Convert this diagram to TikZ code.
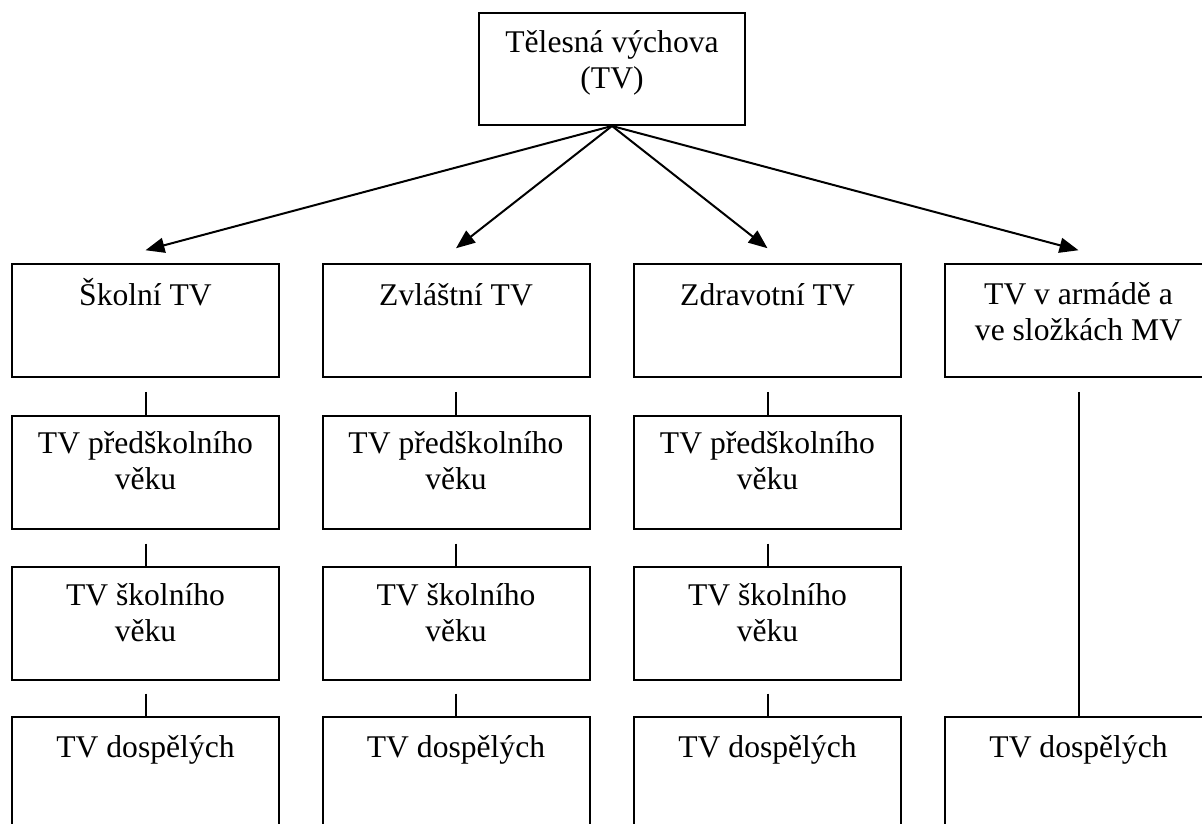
\documentclass[tikz,border=0pt]{standalone}
\usepackage{fontspec}
\setmainfont{Liberation Serif}
\usetikzlibrary{arrows.meta}
\begin{document}
\begin{tikzpicture}[x=0.5pt,y=-0.5pt,
  box/.style={draw, line width=1pt, minimum width=133.5pt, minimum height=56.25pt, inner sep=0pt},
  lbl/.style={anchor=base, align=center, inner sep=0pt, font=\fontsize{15.8pt}{18pt}\selectfont},
  arr/.style={line width=1pt, -{Triangle[length=9.5pt,width=7.5pt]}},
  con/.style={line width=1pt}]
\useasboundingbox (0,0) rectangle (1202,823);
\clip (0,0) rectangle (1202,823);
% top
\node[box, minimum width=133pt, minimum height=56pt] (top) at (612,69) {};
\path (top.north) ++(0,77) node[lbl] (ttop) {Tělesná výchova\\(TV)};
% row 1
\node[box] (b11) at (145.5,320.5) {};
\node[box] (b12) at (456,320.5) {};
\node[box] (b13) at (767.5,320.5) {};
\node[box] (b14) at (1078.5,320.5) {};
\path (b11.north) ++(0,42) node[lbl] (t11) {Školní TV};
\path (b12.north) ++(0,42) node[lbl] (t12) {Zvláštní TV};
\path (b13.north) ++(0,42) node[lbl] (t13) {Zdravotní TV};
\path (b14.north) ++(0,77) node[lbl] (t14) {TV v armádě a\\ve složkách MV};
% row 2
\node[box] (b21) at (145.5,472.25) {};
\node[box] (b22) at (456,472.25) {};
\node[box] (b23) at (767.5,472.25) {};
\path (b21.north) ++(0,74.5) node[lbl] (t21) {TV předškolního\\věku};
\path (b22.north) ++(0,74.5) node[lbl] (t22) {TV předškolního\\věku};
\path (b23.north) ++(0,74.5) node[lbl] (t23) {TV předškolního\\věku};
% row 3
\node[box] (b31) at (145.5,623.25) {};
\node[box] (b32) at (456,623.25) {};
\node[box] (b33) at (767.5,623.25) {};
\path (b31.north) ++(0,75) node[lbl] (t31) {TV školního\\věku};
\path (b32.north) ++(0,75) node[lbl] (t32) {TV školního\\věku};
\path (b33.north) ++(0,75) node[lbl] (t33) {TV školního\\věku};
% row 4
\node[box] (b41) at (145.5,773.5) {};
\node[box] (b42) at (456,773.5) {};
\node[box] (b43) at (767.5,773.5) {};
\node[box] (b44) at (1078.5,773.5) {};
\path (b41.north) ++(0,41) node[lbl] (t41) {TV dospělých};
\path (b42.north) ++(0,41) node[lbl] (t42) {TV dospělých};
\path (b43.north) ++(0,41) node[lbl] (t43) {TV dospělých};
\path (b44.north) ++(0,41) node[lbl] (t44) {TV dospělých};
% arrows
\draw[arr] (top.south) -- ([yshift=6.5pt]b11.north);
\draw[arr] (top.south) -- ([yshift=7.5pt]b12.north);
\draw[arr] (top.south) -- ([yshift=7.5pt]b13.north);
\draw[arr] (top.south) -- ([yshift=6.5pt]b14.north);
% connectors
\foreach \c in {1,2,3}{
  \draw[con] ([yshift=-7pt]b1\c.south) -- (b2\c.north);
  \draw[con] ([yshift=-7pt]b2\c.south) -- (b3\c.north);
  \draw[con] ([yshift=-6.5pt]b3\c.south) -- (b4\c.north);
}
\draw[con] ([yshift=-7pt]b14.south) -- (b44.north);
\end{tikzpicture}
\end{document}
